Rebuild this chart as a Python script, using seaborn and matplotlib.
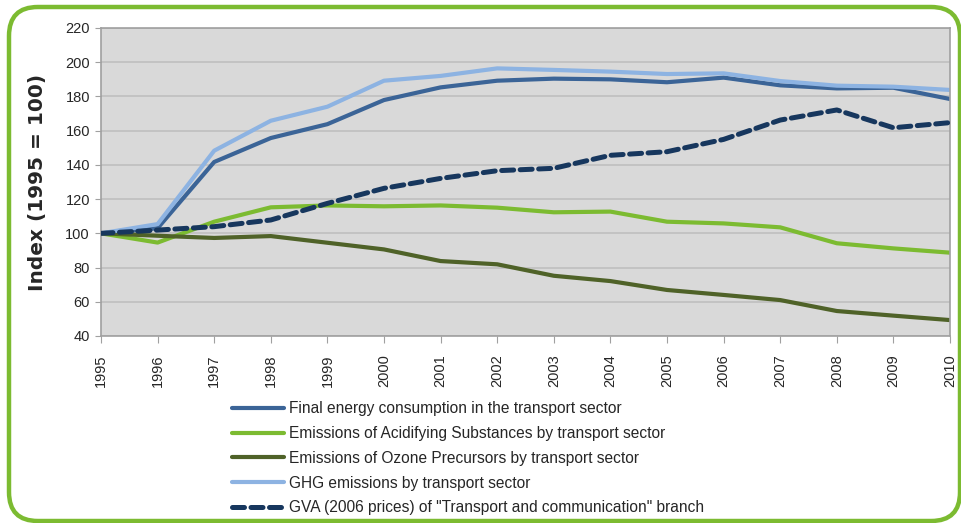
import pandas as pd
import seaborn as sns
import matplotlib.pyplot as plt
from matplotlib.patches import FancyBboxPatch

years = list(range(1995, 2011))

final_energy = [100, 103, 141.7, 155.7, 163.8, 177.9, 185.3, 189.2, 190.4, 190.0,
                188.3, 191.0, 186.5, 184.7, 185.1, 178.5]
acidifying = [100, 94.6, 106.8, 115.2, 116.3, 115.8, 116.3, 115.0, 112.3, 112.7,
              106.8, 105.8, 103.5, 94.2, 91.2, 88.7]
ozone = [100, 98.6, 97.3, 98.4, 94.5, 90.6, 83.8, 81.9, 75.2, 72.1,
         66.9, 64.0, 61.0, 54.6, 51.9, 49.3]
ghg = [100, 105.4, 148.3, 165.8, 174.0, 189.2, 192.0, 196.4, 195.5, 194.5,
       193.1, 193.5, 189.0, 186.3, 185.7, 183.8]
gva = [100, 101.9, 103.9, 107.8, 117.5, 126.3, 132.1, 136.6, 138.0, 145.6,
       147.7, 154.9, 166.2, 172.1, 161.7, 164.7]

labels = [
    "Final energy consumption in the transport sector",
    "Emissions of Acidifying Substances by transport sector",
    "Emissions of Ozone Precursors by transport sector",
    "GHG emissions by transport sector",
    'GVA (2006 prices) of "Transport and communication" branch',
]
colors = ["#3b6497", "#7cbb31", "#4f6228", "#8db3e2", "#17375e"]

df = pd.DataFrame({"year": years, labels[0]: final_energy, labels[1]: acidifying,
                   labels[2]: ozone, labels[3]: ghg, labels[4]: gva})
long = df.melt(id_vars="year", var_name="series", value_name="index")

sns.set_style("white")
plt.rcParams['font.family'] = ['Liberation Sans', 'DejaVu Sans']

fig = plt.figure(figsize=(9.62, 5.23), dpi=100)
ax = fig.add_axes([101 / 962, 1 - 336 / 523, 849 / 962, 308 / 523])

# green rounded frame around the whole figure
frame = FancyBboxPatch((9 / 962, 2 / 523), 960 / 962 - 9 / 962, 514 / 523,
                       boxstyle="round,pad=0,rounding_size=0.03",
                       transform=fig.transFigure, fill=False,
                       edgecolor="#7cbb31", linewidth=3.2, zorder=0,
                       mutation_aspect=962 / 523)
fig.patches.append(frame)

ax.set_facecolor("#d9d9d9")
for i, lab in enumerate(labels):
    sub = long[long["series"] == lab]
    if i == 4:
        sns.lineplot(data=sub, x="year", y="index", ax=ax, color=colors[i],
                     linewidth=3.6, label=lab, dashes=False, zorder=3)
        ax.lines[-1].set_dashes([2.4, 1.3])
        ax.lines[-1].set_dash_capstyle("round")
    else:
        sns.lineplot(data=sub, x="year", y="index", ax=ax, color=colors[i],
                     linewidth=3.0, label=lab, zorder=2)

ax.set_xlim(1995, 2010)
ax.set_ylim(40, 220)
ax.set_yticks(range(40, 221, 20))
ax.set_xticks(years)
ax.set_xticklabels([str(y) for y in years], rotation=90, fontsize=10.5)
ax.tick_params(axis="y", labelsize=10.5, length=4, color="#a0a0a0", left=True, pad=4)
ax.tick_params(axis="x", length=5, color="#a0a0a0", bottom=True, pad=8)
ax.grid(axis="y", color="#bfbfbf", linewidth=1.2)
ax.set_axisbelow(True)
for s in ax.spines.values():
    s.set_color("#a0a0a0")
    s.set_linewidth(1.2)
ax.set_xlabel("")
ax.set_ylabel("Index (1995 = 100)", fontsize=14.5, fontweight="bold",
              family="DejaVu Sans", labelpad=13)

leg = ax.legend(loc="upper left", bbox_to_anchor=(226 / 962, 1 - 395 / 523),
                bbox_transform=fig.transFigure, frameon=False, fontsize=11.2,
                handlelength=3.3, handletextpad=0.35, labelspacing=0.63,
                borderaxespad=0)

fig.savefig("out.png", dpi=100)
